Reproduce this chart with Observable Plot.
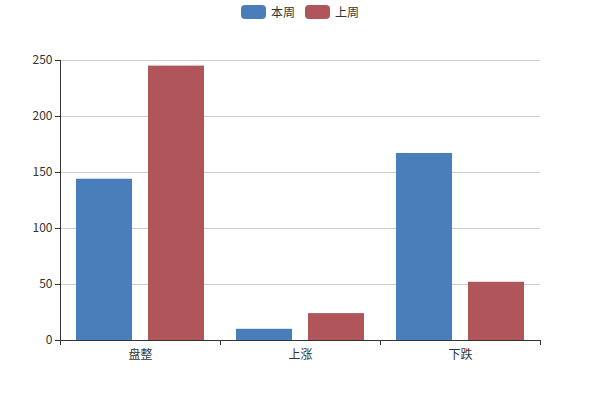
<!DOCTYPE html>
<html>
<head>
<meta charset="utf-8">
<script src="https://cdn.jsdelivr.net/npm/d3@7"></script>
<script src="https://cdn.jsdelivr.net/npm/@observablehq/plot@0.6"></script>
<style>
  body { margin: 0; background: #fff; font-family: "Noto Sans CJK SC", "Microsoft YaHei", sans-serif; }
  #wrap { position: relative; width: 600px; height: 400px; }
  #legend { position: absolute; top: 5px; left: 0; width: 600px; display: flex; justify-content: center; gap: 10px; font-size: 12px; color: #333; line-height: 14px; }
  .item { display: flex; align-items: center; }
  .sw { width: 25px; height: 14px; border-radius: 4px; margin-right: 5px; }
</style>
</head>
<body>
<div id="wrap"><div id="legend"></div></div>
<script>
const categories = ["盘整", "上涨", "下跌"];
const seriesNames = ["本周", "上周"];
const thisWeek = [144, 10, 167];
const lastWeek = [245, 24, 52];
const yTicks = [0, 50, 100, 150, 200, 250];
const colors = ["#4a7ebb", "#b0555a"];

const rowsThis = categories.map((c, i) => ({cat: c, v: thisWeek[i]}));
const rowsLast = categories.map((c, i) => ({cat: c, v: lastWeek[i]}));

const font = "Noto Sans CJK SC, Microsoft YaHei, sans-serif";

const chart = Plot.plot({
  width: 600,
  height: 400,
  marginTop: 60,
  marginBottom: 60,
  marginLeft: 60,
  marginRight: 60,
  style: {fontFamily: font, fontSize: "12px", color: "#333", background: "#fff"},
  x: {domain: categories, padding: 0, label: null, axis: null},
  y: {domain: [0, 250], label: null, axis: null},
  marks: [
    Plot.gridY(yTicks.filter(d => d > 0), {stroke: "#ccc", strokeOpacity: 1}),
    Plot.barY(rowsThis, {x: "cat", y: "v", fill: colors[0], insetLeft: 16, insetRight: 88}),
    Plot.barY(rowsLast, {x: "cat", y: "v", fill: colors[1], insetLeft: 88, insetRight: 16}),
    Plot.axisY(yTicks, {tickSize: 5, tickPadding: 3, stroke: "#333", color: "#333", fontSize: 12, label: null}),
    Plot.ruleX([0], {x: () => categories[0], dx: -80, stroke: "#333"}),
    Plot.ruleY([0], {stroke: "#333"}),
    Plot.axisX(categories, {tickSize: 5, dx: -80, tickFormat: () => "", stroke: "#333", label: null}),
    Plot.axisX([categories[categories.length - 1]], {tickSize: 5, dx: 80, tickFormat: () => "", stroke: "#333", label: null}),
    Plot.axisX(categories, {tickSize: 0, tickPadding: 10, color: "#333", fontSize: 12, label: null})
  ]
});

document.getElementById("wrap").appendChild(chart);

const legend = document.getElementById("legend");
seriesNames.forEach((name, i) => {
  const item = document.createElement("div");
  item.className = "item";
  const sw = document.createElement("div");
  sw.className = "sw";
  sw.style.background = colors[i];
  const t = document.createElement("span");
  t.textContent = name;
  item.appendChild(sw);
  item.appendChild(t);
  legend.appendChild(item);
});
</script>
</body>
</html>
